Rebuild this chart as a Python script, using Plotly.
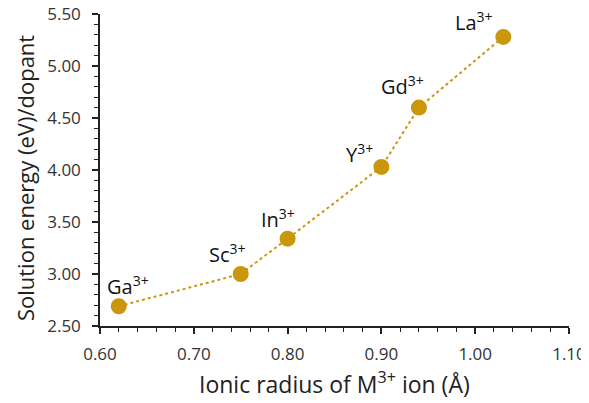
import plotly.graph_objects as go

ions = ["Ga", "Sc", "In", "Y", "Gd", "La"]
radius = [0.62, 0.75, 0.80, 0.90, 0.94, 1.03]
energy = [2.69, 3.00, 3.34, 4.03, 4.60, 5.28]
label_dx = [9, -13, -10, -22, -16, -29]
label_dy = [21, 21, 20, 13, 22, 15]

color = "#C9960C"
font = "Open Sans, DejaVu Sans, sans-serif"

fig = go.Figure()
fig.add_trace(go.Scatter(
    x=radius, y=energy, mode="lines+markers",
    line=dict(color=color, width=2, dash="dot"),
    marker=dict(color=color, size=16),
    showlegend=False,
))

for ion, x, y, dx, dy in zip(ions, radius, energy, label_dx, label_dy):
    fig.add_annotation(
        x=x, y=y, text=f"{ion}<sup>3+</sup>", showarrow=False,
        xshift=dx, yshift=dy, font=dict(family=font, size=20, color="#111111"),
    )

axis_common = dict(
    showline=True, linecolor="#222222", linewidth=1.5,
    ticks="outside", ticklen=6, tickcolor="#222222", tickwidth=1.5,
    showgrid=False, zeroline=False, tickformat=".2f",
    tickfont=dict(family=font, size=17, color="#333333"),
    mirror=False, automargin=False, ticklabeloverflow="allow",
)

fig.update_xaxes(
    range=[0.6, 1.1], dtick=0.1, tick0=0.6, ticklabelstandoff=6,
    minor=dict(dtick=0.02, ticks="outside", ticklen=4, tickcolor="#222222", tickwidth=1.2),
    **axis_common,
)
fig.update_yaxes(
    range=[2.5, 5.5], dtick=0.5, tick0=2.5, ticklabelstandoff=8,
    minor=dict(dtick=0.1, ticks="outside", ticklen=4, tickcolor="#222222", tickwidth=1.2),
    **axis_common,
)

fig.add_annotation(
    text="Ionic radius of M<sup>3+</sup> ion (Å)", xref="paper", yref="paper",
    x=0.5, y=-0.183, yanchor="middle", showarrow=False,
    font=dict(family=font, size=23, color="#222222"),
)
fig.add_annotation(
    text="Solution energy (eV)/dopant", xref="paper", yref="paper",
    x=-0.16, y=0.474, textangle=-90, xanchor="center", yanchor="middle", showarrow=False,
    font=dict(family=font, size=22, color="#222222"),
)

fig.update_layout(
    width=589, height=395,
    margin=dict(l=92, r=28, t=6, b=77),
    plot_bgcolor="white", paper_bgcolor="white",
)

fig.write_html("out.html")
